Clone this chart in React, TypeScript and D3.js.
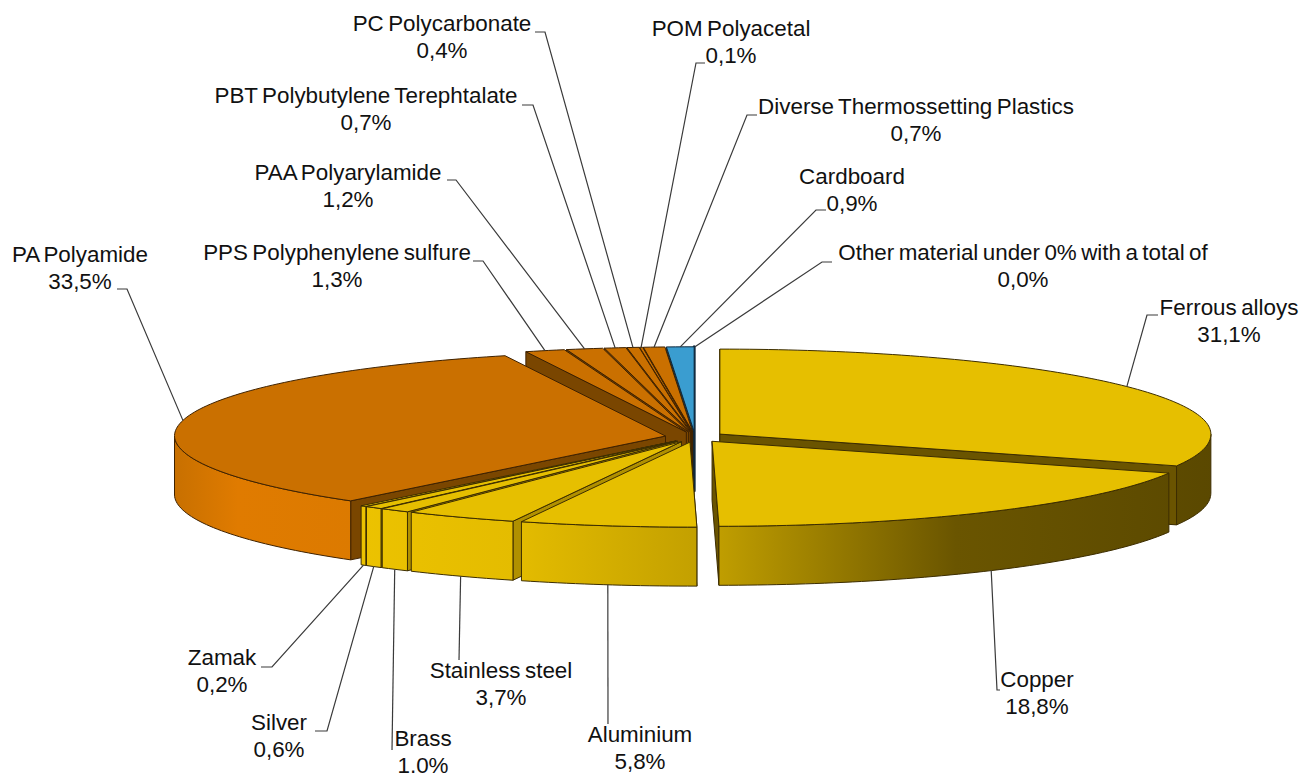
import React from 'react';
import * as d3 from 'd3';

const names = ['Ferrous alloys', 'Copper', 'Aluminium', 'Stainless steel', 'Brass', 'Silver', 'Zamak', 'PA Polyamide',
  'PPS Polyphenylene sulfure', 'PAA Polyarylamide', 'PBT Polybutylene Terephtalate', 'PC Polycarbonate', 'POM Polyacetal',
  'Diverse Thermossetting Plastics', 'Cardboard', 'Other material under 0% with a total of'];
const values = [31.1, 18.8, 5.8, 3.7, 1.0, 0.6, 0.2, 33.5, 1.3, 1.2, 0.7, 0.4, 0.1, 0.7, 0.9, 0.0];
const groups = ['gold', 'gold', 'gold', 'gold', 'gold', 'gold', 'gold', 'orange', 'orange', 'orange', 'orange', 'orange', 'orange', 'orange', 'blue', 'blue'];

// label centre, first baseline and the two leader points next to the text
const labelLayout: [number, number, [number, number], [number, number]][] = [
  [1229, 315, [1158, 315], [1147, 315]],
  [1037, 687, [1000, 690], [997, 690]],
  [640, 742, [608, 724], [608, 724]],
  [501, 678, [459, 660], [459, 660]],
  [423, 746, [392, 750], [392, 750]],
  [279, 730, [315, 731], [327, 731]],
  [222, 665, [261, 667], [272, 667]],
  [80, 262, [117, 289], [127, 289]],
  [337, 260, [473, 261], [483, 261]],
  [348, 180, [447, 180], [456, 180]],
  [366, 103, [522, 105], [533, 105]],
  [442, 31, [535, 32], [545, 32]],
  [731, 36, [705, 63], [696, 63]],
  [916, 114, [757, 115], [747, 115]],
  [852, 184, [826, 210], [816, 210]],
  [1023, 260, [832, 262], [822, 262]],
];

const cx = 695, cy = 437, rx = 491, ry = 85, wallH = 59, explode = 30 / 491, shear = 0.045;

const palette: Record<string, { top: string; line: string; wall: string; startFace: string; endFace: string }> = {
  gold: { top: '#e6bf00', line: '#3c2d00', wall: 'url(#goldWall)', startFace: '#b09000', endFace: '#6a5400' },
  orange: { top: '#ca7000', line: '#3f2200', wall: 'url(#orangeWall)', startFace: '#7a4600', endFace: '#6b3d00' },
  blue: { top: '#3a9dd0', line: '#10293c', wall: '#1d4f6a', startFace: '#14384c', endFace: '#14384c' },
};

const scaleX = d3.scaleLinear().domain([-1, 1]).range([cx - rx, cx + rx]);
const scaleY = d3.scaleLinear().domain([-1, 1]).range([cy + ry, cy - ry]);

const arcs = d3.pie<number>().sort(null)(values);
const line = d3.line();

const project = (angle: number, r: number, mid: number, z = 0): [number, number] => {
  const ux = r * Math.sin(angle) + explode * Math.sin(mid);
  const uy = r * Math.cos(angle) + explode * Math.cos(mid);
  const y = scaleY(uy);
  return [scaleX(ux) + shear * Math.max(0, y - cy), y + z];
};

const sample = (a0: number, a1: number) => {
  const n = Math.max(2, Math.ceil((a1 - a0) / 0.02));
  return d3.range(n + 1).map((i) => a0 + ((a1 - a0) * i) / n);
};

const slices = arcs
  .map((a, i) => ({ ...a, i, mid: (a.startAngle + a.endAngle) / 2 }))
  .filter((s) => s.value > 0)
  .sort((p, q) => Math.cos(q.mid) - Math.cos(p.mid));

const Slice = ({ s }: { s: (typeof slices)[number] }) => {
  const c = palette[groups[s.i]];
  const { startAngle: a0, endAngle: a1, mid } = s;
  const apex = project(0, 0, mid);
  const apexLow = project(0, 0, mid, wallH);
  const face = (a: number) =>
    line([apex, project(a, 1, mid), project(a, 1, mid, wallH), apexLow]) + 'Z';
  const top = line([apex, ...sample(a0, a1).map((a) => project(a, 1, mid))]) + 'Z';
  const w0 = Math.max(a0, Math.PI / 2);
  const w1 = Math.min(a1, (3 * Math.PI) / 2);
  const wall =
    w1 > w0
      ? line([
          ...sample(w0, w1).map((a) => project(a, 1, mid)),
          ...sample(w0, w1).reverse().map((a) => project(a, 1, mid, wallH)),
        ]) + 'Z'
      : null;
  // only the cut faces turned towards the viewer, the others stay hidden
  const showStart = Math.sin(a0) < 0.01;
  const showEnd = Math.sin(a1) > -0.01;
  return (
    <g stroke={c.line} strokeWidth={1} strokeLinejoin="round">
      {showStart && <path d={face(a0)} fill={c.startFace} />}
      {showEnd && <path d={face(a1)} fill={c.endFace} strokeWidth={groups[s.i] === 'blue' ? 3 : 1} />}
      {wall && <path d={wall} fill={c.wall} />}
      <path d={top} fill={c.top} />
    </g>
  );
};

const anchor = (i: number): [number, number] => {
  const a = arcs[i];
  const mid = (a.startAngle + a.endAngle) / 2;
  return project(mid, 1, mid, Math.cos(mid) < 0 ? wallH : 0);
};

export default function App() {
  return (
    <svg width={1300} height={773} style={{ position: 'absolute', left: 0, top: 0, background: '#fff' }}
      fontFamily="'Liberation Sans', Arial, sans-serif" fontSize={22.4} wordSpacing={-1.8}>
      <defs>
        <linearGradient id="goldWall" gradientUnits="userSpaceOnUse" x1={340} x2={1220} y1={0} y2={0}>
          <stop offset="0" stopColor="#edc300" />
          <stop offset="0.2" stopColor="#e4bc00" />
          <stop offset="0.4" stopColor="#c4a100" />
          <stop offset="0.43" stopColor="#c09e00" />
          <stop offset="0.7" stopColor="#6a5500" />
          <stop offset="1" stopColor="#5a4800" />
        </linearGradient>
        <linearGradient id="orangeWall" gradientUnits="userSpaceOnUse" x1={175} x2={355} y1={0} y2={0}>
          <stop offset="0" stopColor="#c87000" />
          <stop offset="0.35" stopColor="#e07b00" />
          <stop offset="1" stopColor="#dc7a00" />
        </linearGradient>
      </defs>
      {slices.map((s) => <Slice key={s.i} s={s} />)}
      {names.map((n, i) => {
        const [lx, ly, p0, p1] = labelLayout[i];
        return (
          <g key={n}>
            <path d={line([p0, p1, anchor(i)]) as string} fill="none" stroke="#3a3a3a" strokeWidth={1.2} />
            <text x={lx} y={ly} textAnchor="middle" fill="#111">{n}</text>
            <text x={lx} y={ly + 27} textAnchor="middle" fill="#111">{values[i].toFixed(1).replace('.', ',')}%</text>
          </g>
        );
      })}
    </svg>
  );
}
